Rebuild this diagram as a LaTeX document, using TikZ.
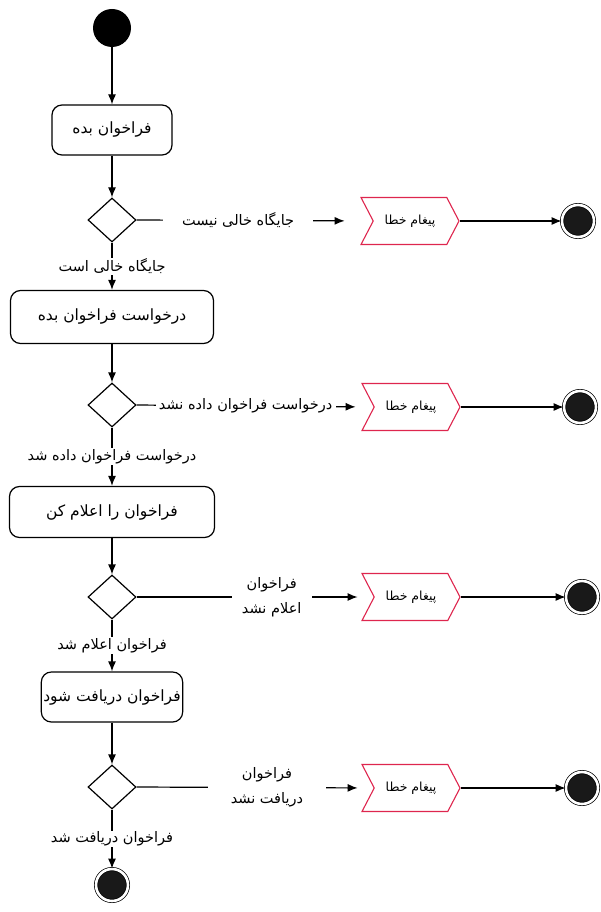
\documentclass[tikz,border=0pt]{standalone}
\usepackage{fontspec}
\newfontfamily\farsi[Script=Arabic]{DejaVu Sans}
\TeXXeTstate=1
\usetikzlibrary{arrows.meta,shapes.geometric,shapes.symbols}
\definecolor{errred}{RGB}{222,38,78}
\newcommand{\fa}[1]{{\farsi\beginR #1\endR}}

\begin{document}
\begin{tikzpicture}[x=1pt, y=-1pt,
    flow/.style = {-{Latex[length=10pt,width=8pt]}, line width=1.2pt},
    action/.style = {rectangle, rounded corners=10pt, draw, line width=1.2pt, align=center, inner sep=2pt, font=\fontsize{15.5}{18}\selectfont},
    decision/.style = {diamond, draw, line width=1.2pt, minimum width=48, minimum height=44, inner sep=0pt},
    errsig/.style = {signal, signal from=west, signal to=east, signal pointer angle=125, draw=errred, line width=1.1pt, minimum width=98, minimum height=47, inner sep=2pt, font=\fontsize{12.5}{15}\selectfont},
    startnode/.style = {circle, fill=black, minimum size=38, inner sep=0pt},
    endnode/.style = {circle, draw, fill=black!90, line width=0.7pt, double, double distance=2.6pt, minimum size=32, inner sep=0pt},
    lbl/.style = {fill=white, inner sep=1pt, align=center, font=\fontsize{14.5}{17}\selectfont}]
  \useasboundingbox (0,0) rectangle (600,912);

  \node[startnode] (start) at (112,28) {};

  \node[action, minimum width=120, minimum height=50] (call) at (112,130) {\fa{فراخوان بده}};
  \node[decision] (d1) at (112,220) {};
  \node[errsig] (e1) at (410,221) {\fa{پیغام خطا}};
  \node[endnode] (f1) at (578,221) {};

  \node[action, minimum width=203, minimum height=53] (req) at (112,317) {\fa{درخواست فراخوان بده}};
  \node[decision] (d2) at (112,405) {};
  \node[errsig] (e2) at (411,407) {\fa{پیغام خطا}};
  \node[endnode] (f2) at (580,407) {};

  \node[action, minimum width=205, minimum height=51] (ann) at (112,512) {\fa{فراخوان را اعلام کن}};
  \node[decision] (d3) at (112,597) {};
  \node[errsig] (e3) at (411,597) {\fa{پیغام خطا}};
  \node[endnode] (f3) at (582,597) {};

  \node[action, minimum width=131, minimum height=50] (recv) at (112,697) {\fa{فراخوان دریافت شود}};
  \node[decision] (d4) at (112,787) {};
  \node[errsig] (e4) at (411,788) {\fa{پیغام خطا}};
  \node[endnode] (f4) at (582,788) {};

  \node[endnode] (fin) at (112,885) {};

  % main flow
  \draw[flow] (start) -- (call);
  \draw[flow] (call) -- (d1);
  \draw[flow] (d1) -- (req) node[midway, lbl] {\fa{جایگاه خالی است}};
  \draw[flow] (req) -- (d2);
  \draw[flow] (d2) -- (ann) node[midway, lbl] {\fa{درخواست فراخوان داده شد}};
  \draw[flow] (ann) -- (d3);
  \draw[flow] (d3) -- (recv) node[midway, lbl] {\fa{فراخوان اعلام شد}};
  \draw[flow] (recv) -- (d4);
  \draw[flow] (d4) -- (fin) node[midway, lbl] {\fa{فراخوان دریافت شد}};

  % error branches
  \draw[flow, shorten >=28pt] (d1.east) -- (e1.west) node[pos=0.43, lbl, minimum width=150] {\fa{جایگاه خالی نیست}};
  \draw[flow, shorten >=18pt] (d2.east) -- (e2.west) node[pos=0.46, lbl, minimum width=180] {\fa{درخواست فراخوان داده نشد}};
  \draw[flow, shorten >=16pt] (d3.east) -- (e3.west) node[pos=0.57, lbl, minimum width=80] {\fa{فراخوان}\\[8pt]\fa{اعلام نشد}};
  \draw[flow, shorten >=16pt] (d4.east) -- (e4.west) node[pos=0.55, lbl, minimum width=118] {\fa{فراخوان}\\[8pt]\fa{دریافت نشد}};

  \draw[flow] (e1.east) -- (f1);
  \draw[flow] (e2.east) -- (f2);
  \draw[flow] (e3.east) -- (f3);
  \draw[flow] (e4.east) -- (f4);
\end{tikzpicture}
\end{document}
